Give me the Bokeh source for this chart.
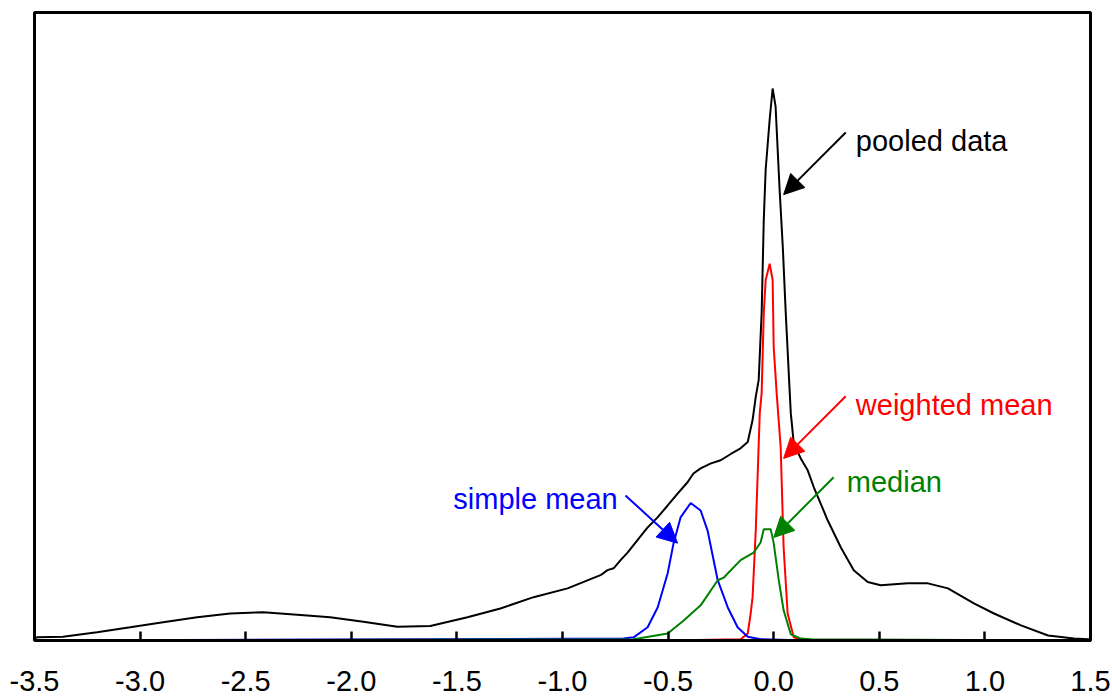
from bokeh.plotting import figure
from bokeh.models import Range1d, Arrow, NormalHead, FixedTicker, Label
from bokeh.embed import file_html
from bokeh.resources import INLINE

# ---- data (y in relative density units) ----
pooled_x = [-3.5, -3.488, -3.365, -3.204, -3.047, -2.891, -2.730, -2.573, -2.417, -2.256, -2.100,
            -1.943, -1.782, -1.626, -1.450, -1.294, -1.137, -0.976, -0.820, -0.787, -0.758,
            -0.725, -0.692, -0.645, -0.597, -0.550, -0.502, -0.455, -0.408, -0.380, -0.346,
            -0.297, -0.251, -0.203, -0.157, -0.123, -0.100, -0.085, -0.071,
            -0.057, -0.047, -0.038, -0.019, -0.005, 0.009, 0.028, 0.043, 0.057, 0.076, 0.081,
            0.095, 0.128, 0.161, 0.190, 0.256, 0.318, 0.379, 0.445, 0.507, 0.635, 0.730, 0.825,
            0.948, 1.043, 1.171, 1.299, 1.422, 1.488, 1.5]
pooled_y = [0.003, 0.005, 0.006, 0.013, 0.021, 0.029, 0.037, 0.043, 0.045, 0.041, 0.037,
            0.030, 0.022, 0.023, 0.037, 0.051, 0.069, 0.083, 0.104, 0.112, 0.115,
            0.128, 0.140, 0.160, 0.180, 0.196, 0.215, 0.234, 0.252, 0.266, 0.274,
            0.282, 0.287, 0.297, 0.306, 0.316, 0.351, 0.388, 0.415,
            0.522, 0.670, 0.750, 0.830, 0.879, 0.850, 0.718, 0.627, 0.522, 0.394, 0.362,
            0.314, 0.290, 0.271, 0.244, 0.191, 0.148, 0.112, 0.093, 0.088, 0.091, 0.091, 0.083,
            0.059, 0.043, 0.024, 0.008, 0.003, 0.002, 0.002]

weighted_x = [-3.5, -0.502, -0.157, -0.123, -0.109, -0.100, -0.085, -0.066, -0.057, -0.047,
              -0.038, -0.019, -0.005, 0.000, 0.014, 0.033, 0.047, 0.066, 0.095, 0.128, 0.161, 1.5]
weighted_y = [0.0, 0.0, 0.002, 0.011, 0.043, 0.069, 0.175, 0.362, 0.394, 0.522,
              0.574, 0.600, 0.574, 0.467, 0.394, 0.308, 0.148, 0.043, 0.005, 0.002, 0.0, 0.0]

simple_x = [-3.5, -0.711, -0.663, -0.597, -0.549, -0.502, -0.474, -0.441, -0.393, -0.346,
            -0.313, -0.265, -0.218, -0.171, -0.123, -0.062, 0.161, 1.5]
simple_y = [0.0, 0.003, 0.005, 0.021, 0.053, 0.107, 0.155, 0.196, 0.219, 0.207,
            0.175, 0.096, 0.053, 0.021, 0.006, 0.002, 0.0, 0.0]

median_x = [-3.5, -0.663, -0.502, -0.426, -0.346, -0.265, -0.237, -0.157, -0.095, -0.062,
            -0.047, -0.014, 0.000, 0.024, 0.047, 0.081, 0.128, 0.176, 1.5]
median_y = [0.0, 0.002, 0.011, 0.032, 0.056, 0.096, 0.100, 0.128, 0.140, 0.156,
            0.177, 0.177, 0.155, 0.096, 0.048, 0.010, 0.003, 0.002, 0.0]

x_ticks = [-3.5, -3.0, -2.5, -2.0, -1.5, -1.0, -0.5, 0.0, 0.5, 1.0, 1.5]
x_tick_labels = ["-3.5", "-3.0", "-2.5", "-2.0", "-1.5", "-1.0", "-0.5", "0.0", "0.5", "1.0", "1.5"]

FONT = "Liberation Sans"

p = figure(width=1112, height=698, output_backend="svg", toolbar_location=None,
           x_range=Range1d(-3.5, 1.5), y_range=Range1d(0, 1),
           min_border_left=34, min_border_right=22, min_border_top=12, min_border_bottom=58)
p.background_fill_color = "white"
p.border_fill_color = "white"
p.outline_line_color = "black"
p.outline_line_width = 3
p.grid.visible = False
p.yaxis.visible = False

ax = p.xaxis[0]
ax.ticker = FixedTicker(ticks=x_ticks)
ax.major_label_overrides = {t: l for t, l in zip(x_ticks, x_tick_labels)}
ax.major_tick_in = 9
ax.major_tick_out = 0
ax.major_tick_line_width = 2.5
ax.major_tick_line_color = "black"
ax.minor_tick_line_color = None
ax.axis_line_color = "black"
ax.axis_line_width = 3
ax.major_label_text_font = FONT
ax.major_label_text_font_size = "29px"
ax.major_label_text_color = "black"
ax.major_label_standoff = 30

lw = 2
p.line(pooled_x, pooled_y, line_color="black", line_width=lw)
p.line(weighted_x, weighted_y, line_color="#FF0000", line_width=lw)
p.line(simple_x, simple_y, line_color="#0000FF", line_width=lw)
p.line(median_x, median_y, line_color="#008000", line_width=lw)

# annotations: (text, color, text_x, text_baseline_y, arrow_x0, arrow_y0, arrow_x1, arrow_y1)
annotations = [
    ("pooled data", "black", 0.389, 0.796, 0.341, 0.809, 0.047, 0.710),
    ("weighted mean", "#FF0000", 0.389, 0.375, 0.341, 0.389, 0.047, 0.290),
    ("median", "#008000", 0.346, 0.252, 0.284, 0.260, 0.000, 0.164),
    ("simple mean", "#0000FF", -1.517, 0.226, -0.702, 0.231, -0.455, 0.155),
]
for txt, col, tx, ty, x0, y0, x1, y1 in annotations:
    p.add_layout(Label(x=tx, y=ty, text=txt, text_color=col, text_font=FONT,
                       text_font_size="29px", text_baseline="alphabetic", text_align="left"))
    p.add_layout(Arrow(x_start=x0, y_start=y0, x_end=x1, y_end=y1,
                       line_color=col, line_width=2,
                       end=NormalHead(size=20, fill_color=col, line_color=col)))

open("out.html", "w").write(file_html(p, INLINE))
